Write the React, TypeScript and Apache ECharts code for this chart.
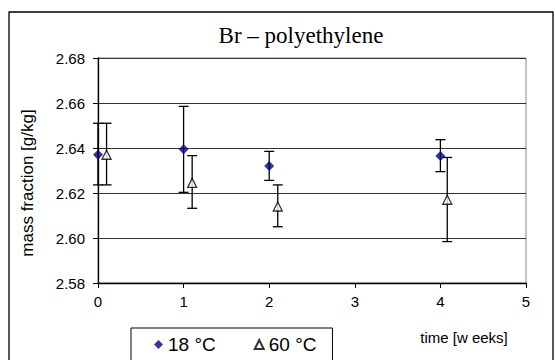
import React, { useEffect, useRef } from "react";
import * as echarts from "echarts";

const title = "Br – polyethylene";
const yName = "mass fraction [g/kg]";
const xName = "time [w eeks]";
const seriesNames = ["18 °C", "60 °C"];

const x18 = [0, 1, 2, 4];
const y18 = [2.637, 2.6394, 2.632, 2.6364];
const low18 = [2.6236, 2.6203, 2.6256, 2.6295];
const high18 = [2.651, 2.6585, 2.6385, 2.6437];

const x60 = [0.1, 1.1, 2.1, 4.08];
const y60 = [2.637, 2.6245, 2.614, 2.617];
const low60 = [2.6236, 2.6132, 2.605, 2.5984];
const high60 = [2.651, 2.6366, 2.6236, 2.6358];

const xMin = 0, xMax = 5, xStep = 1;
const yMin = 2.58, yMax = 2.68, yStep = 0.02;

const SANS = "'Liberation Sans', Arial, sans-serif";
const SERIF = "'Liberation Serif', 'Times New Roman', serif";

function errorSeries(xs: number[], lows: number[], highs: number[]) {
  return {
    type: "custom",
    z: 2,
    silent: true,
    data: xs.map((x, i) => [x, lows[i], highs[i]]),
    encode: { x: 0, y: [1, 2] },
    renderItem: (params: any, api: any) => {
      const x = api.value(0);
      const lo = api.coord([x, api.value(1)]);
      const hi = api.coord([x, api.value(2)]);
      const hw = 5;
      const st = { stroke: "#000", lineWidth: 1.3 };
      return {
        type: "group",
        children: [
          { type: "line", shape: { x1: lo[0], y1: lo[1], x2: hi[0], y2: hi[1] }, style: st },
          { type: "line", shape: { x1: hi[0] - hw, y1: hi[1], x2: hi[0] + hw, y2: hi[1] }, style: st },
          { type: "line", shape: { x1: lo[0] - hw, y1: lo[1], x2: lo[0] + hw, y2: lo[1] }, style: st },
        ],
      };
    },
  };
}

export default function App() {
  const ref = useRef<HTMLDivElement>(null);
  useEffect(() => {
    if (!ref.current) return;
    const chart = echarts.init(ref.current, null, { renderer: "svg" });
    chart.setOption({
      animation: false,
      backgroundColor: "#fff",
      grid: {
        left: 98,
        top: 58,
        width: 428,
        height: 225,
        show: true,
        borderColor: "#888",
        borderWidth: 1,
        backgroundColor: "#fff",
      },
      xAxis: {
        type: "value",
        min: xMin,
        max: xMax,
        interval: xStep,
        axisLine: { show: true, onZero: false, lineStyle: { color: "#000", width: 1.3 } },
        axisTick: { show: true, length: 5, lineStyle: { color: "#000" } },
        splitLine: { show: false },
        axisLabel: { color: "#000", fontSize: 15, fontFamily: SANS, margin: 11 },
      },
      yAxis: {
        type: "value",
        min: yMin,
        max: yMax,
        interval: yStep,
        axisLine: { show: true, lineStyle: { color: "#000", width: 1.3 } },
        axisTick: { show: true, length: 5, lineStyle: { color: "#000" } },
        splitLine: { show: true, lineStyle: { color: "#333", width: 1 } },
        axisLabel: {
          color: "#000",
          fontSize: 15,
          fontFamily: SANS,
          margin: 13,
          formatter: (v: number) => v.toFixed(2),
        },
      },
      legend: {
        data: seriesNames,
        left: 131,
        top: 328,
        orient: "horizontal",
        backgroundColor: "#fff",
        borderColor: "#000",
        borderWidth: 1,
        padding: [7, 16, 30, 23],
        itemGap: 38,
        itemWidth: 9,
        itemHeight: 9,
        textStyle: { color: "#000", fontSize: 19, fontFamily: SANS },
      },
      graphic: [
        {
          type: "rect",
          silent: true,
          z: -10,
          shape: { x: 9, y: 12, width: 544, height: 400 },
          style: { fill: "none", stroke: "#000", lineWidth: 1.3 },
        },
        {
          type: "text",
          x: 301,
          y: 35,
          style: {
            text: title,
            fontSize: 23,
            fontFamily: SERIF,
            fill: "#000",
            textAlign: "center",
            textVerticalAlign: "middle",
          },
        },
        {
          type: "text",
          x: 27,
          y: 183,
          rotation: Math.PI / 2,
          style: {
            text: yName,
            fontSize: 17,
            fontFamily: SANS,
            fill: "#000",
            textAlign: "center",
            textVerticalAlign: "middle",
          },
        },
        {
          type: "text",
          x: 464,
          y: 337,
          style: {
            text: xName,
            fontSize: 15,
            fontFamily: SANS,
            fill: "#000",
            textAlign: "center",
            textVerticalAlign: "middle",
          },
        },
      ],
      series: [
        errorSeries(x18, low18, high18),
        errorSeries(x60, low60, high60),
        {
          name: seriesNames[0],
          type: "scatter",
          z: 5,
          symbol: "diamond",
          symbolSize: 10,
          itemStyle: { color: "#000080" },
          data: x18.map((x, i) => [x, y18[i]]),
        },
        {
          name: seriesNames[1],
          type: "scatter",
          z: 5,
          symbol: "triangle",
          symbolSize: 9,
          itemStyle: { color: "#fff", borderColor: "#000", borderWidth: 1.3 },
          data: x60.map((x, i) => [x, y60[i]]),
        },
      ],
    });
    return () => chart.dispose();
  }, []);
  return (
    <div
      ref={ref}
      style={{ position: "fixed", left: 0, top: 0, width: 555, height: 360, background: "#fff" }}
    />
  );
}
